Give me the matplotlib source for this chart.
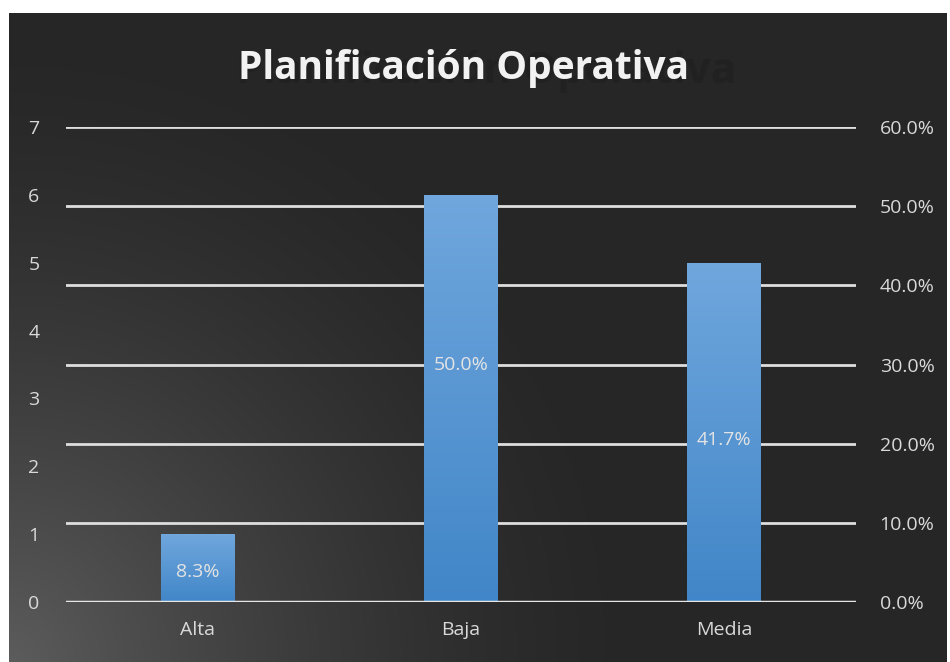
import numpy as np
import matplotlib
matplotlib.use("Agg")
import matplotlib.pyplot as plt
import matplotlib.patheffects as pe

# data
categories = ["Alta", "Baja", "Media"]
counts = [1, 6, 5]
pcts = [8.3, 50.0, 41.7]
label_y = [0.44, 3.49, 2.39]   # where excel put the data labels (count scale)

W, H = 950, 662
fig = plt.figure(figsize=(W / 100, H / 100), dpi=100, facecolor="white")

# dark panel with a soft light spot bottom-left
bg = fig.add_axes([9 / W, 0, 938 / W, 649 / H])
bg.set_axis_off()
yy, xx = np.mgrid[0:649, 0:938]
r = np.sqrt(xx ** 2 + (649 - yy) ** 2)
t = np.clip(r / 640.0, 0, 1)
shade = 0x26 + (0x5c - 0x26) * (1 - t) ** 1.5
img = np.dstack([shade, shade, shade]) / 255.0
bg.imshow(img[::-1], origin="lower", aspect="auto", extent=[0, 1, 0, 1])
bg.set_xlim(0, 1)
bg.set_ylim(0, 1)

# percent axis (gridlines, right ticks)
ax = fig.add_axes([66 / W, 60 / H, 790 / W, 475 / H])
ax.patch.set_alpha(0)
ax.set_ylim(0, 0.6)
ax.set_xlim(-0.5, 2.5)
ax.set_xticks(range(len(categories)))
ax.set_xticklabels(categories)

# count axis (bars, left ticks)
ax2 = ax.twinx()
ax.yaxis.tick_right()
ax2.yaxis.tick_left()

ax.set_yticks(np.arange(0, 0.61, 0.1))
ax.set_yticklabels([f"{v * 100:.1f}%" for v in np.arange(0, 0.61, 0.1)])
ax.grid(axis="y", color="#dedede", linewidth=2)
ax.tick_params(axis="y", length=0, pad=17, labelsize=14, labelcolor="#d9d9d9")
ax.tick_params(axis="x", length=0, pad=14, labelsize=14, labelcolor="#d9d9d9")
for s in ax.spines.values():
    s.set_visible(False)
for lab in ax.get_xticklabels() + ax.get_yticklabels():
    lab.set_family("Open Sans")

ax2.set_ylim(0, 7)
ax2.set_yticks(range(0, 8))
ax2.tick_params(axis="y", length=0, pad=19, labelsize=14, labelcolor="#d9d9d9")
for lab in ax2.get_yticklabels():
    lab.set_family("Open Sans")
for s in ax2.spines.values():
    s.set_visible(False)

bars = ax2.bar(range(len(categories)), counts, width=0.28, color="#5b9bd5",
               zorder=2,
               path_effects=[pe.SimplePatchShadow(offset=(0, 0), shadow_rgbFace="black",
                                                  alpha=0.35, rho=0.3),
                             pe.Normal()])
grad = np.linspace(0, 1, 256).reshape(-1, 1)
top = np.array([0x70, 0xa7, 0xdd]) / 255.0
bot = np.array([0x41, 0x86, 0xc8]) / 255.0
for b in bars:
    x0, w, h = b.get_x(), b.get_width(), b.get_height()
    cols = bot + (top - bot) * grad[:, :, None]
    im = ax2.imshow(cols, origin="lower", aspect="auto",
                    extent=[x0, x0 + w, 0, h], zorder=2.1)
    im.set_clip_path(b)
ax2.set_xlim(-0.5, 2.5)
ax2.set_ylim(0, 7)
ax2.axhline(0, color="#e6e6e6", linewidth=2.5, zorder=3)

for i, (p, ly) in enumerate(zip(pcts, label_y)):
    ax2.text(i, ly, f"{p:.1f}%", ha="center", va="center", fontsize=14,
             color="#e3e3e3", family="Open Sans", zorder=4)

# title with its stretched shadow
fig.text(236 / W, 1 - 83 / H, "Planificación Operativa", fontsize=31,
         fontweight="bold", color="#1c1c1c", alpha=0.45, family="Open Sans",
         ha="left", va="baseline")
fig.text(463 / W, 1 - 79 / H, "Planificación Operativa", fontsize=28,
         fontweight="bold", color="#f2f2f2", family="Open Sans",
         ha="center", va="baseline")

fig.savefig("out.png", dpi=100, facecolor="white")
